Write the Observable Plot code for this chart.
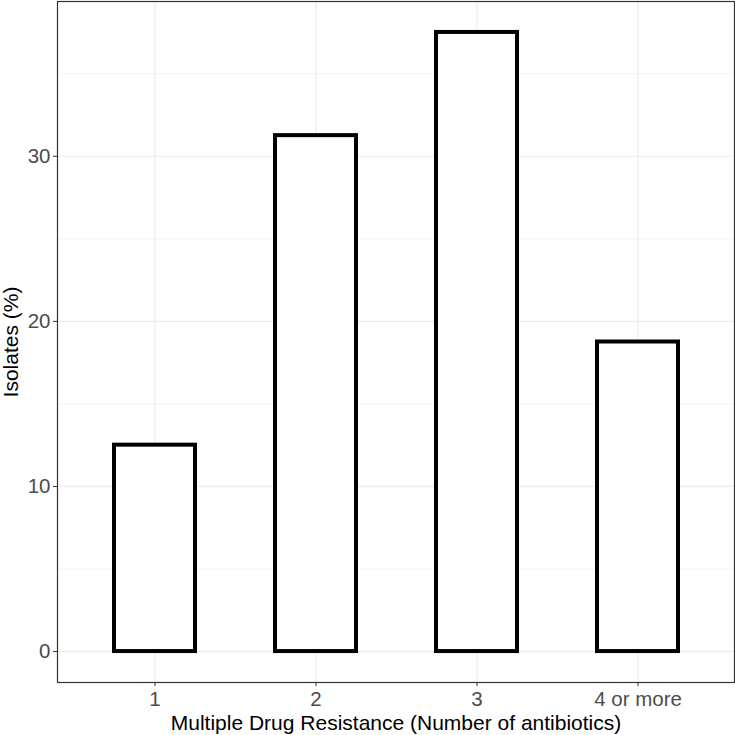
<!DOCTYPE html>
<html><head><meta charset="utf-8">
<script src="https://cdn.jsdelivr.net/npm/d3@7"></script>
<script src="https://cdn.jsdelivr.net/npm/@observablehq/plot@0.6"></script>
<style>body{margin:0;background:#fff;} svg{display:block;}</style>
</head><body><div id="chart"></div>
<script>
const categories = ["1", "2", "3", "4 or more"];
const isolatesPct = [12.5, 31.25, 37.5, 18.75];
const yMajorTicks = [0, 10, 20, 30];
const yMinorTicks = [5, 15, 25, 35];
const xTitle = "Multiple Drug Resistance (Number of antibiotics)";
const yTitle = "Isolates (%)";

const data = categories.map((c, i) => ({cat: c, value: isolatesPct[i]}));
const yMax = d3.max(isolatesPct);
const yMin = 0;
const pad = (yMax - yMin) * 0.05;

const chart = Plot.plot({
  width: 735,
  height: 735,
  marginTop: 1,
  marginLeft: 57,
  marginRight: 1,
  marginBottom: 53,
  style: {fontFamily: "Liberation Sans, Arial, sans-serif", background: "#fff"},
  x: {domain: categories, paddingInner: 0.5, paddingOuter: 0.35},
  y: {domain: [yMin - pad, yMax + pad]},
  marks: [
    Plot.ruleY(yMinorTicks, {stroke: "#ebebeb", strokeWidth: 0.6}),
    Plot.ruleY(yMajorTicks, {stroke: "#ebebeb", strokeWidth: 1.2}),
    Plot.gridX(categories, {stroke: "#ebebeb", strokeWidth: 1.2, strokeOpacity: 1}),
    Plot.barY(data, {x: "cat", y: "value", fill: "white", stroke: "black", strokeWidth: 4}),
    Plot.frame({stroke: "#333333", strokeWidth: 1.2}),
    Plot.axisY(yMajorTicks, {tickSize: 4, tickPadding: 3, stroke: "#333333", color: "#4d4d4d", fontSize: 20.5, label: null}),
    Plot.axisX({tickSize: 4, tickPadding: 5, stroke: "#333333", color: "#4d4d4d", fontSize: 20.5, label: null}),
    Plot.text([xTitle], {frameAnchor: "bottom", dy: 41, fontSize: 21, fill: "black", lineAnchor: "middle"}),
    Plot.text([yTitle], {frameAnchor: "left", dx: -46.5, rotate: -90, textAnchor: "middle", lineAnchor: "middle", fontSize: 21, fill: "black"})
  ]
});
document.getElementById("chart").appendChild(chart);
</script></body></html>
